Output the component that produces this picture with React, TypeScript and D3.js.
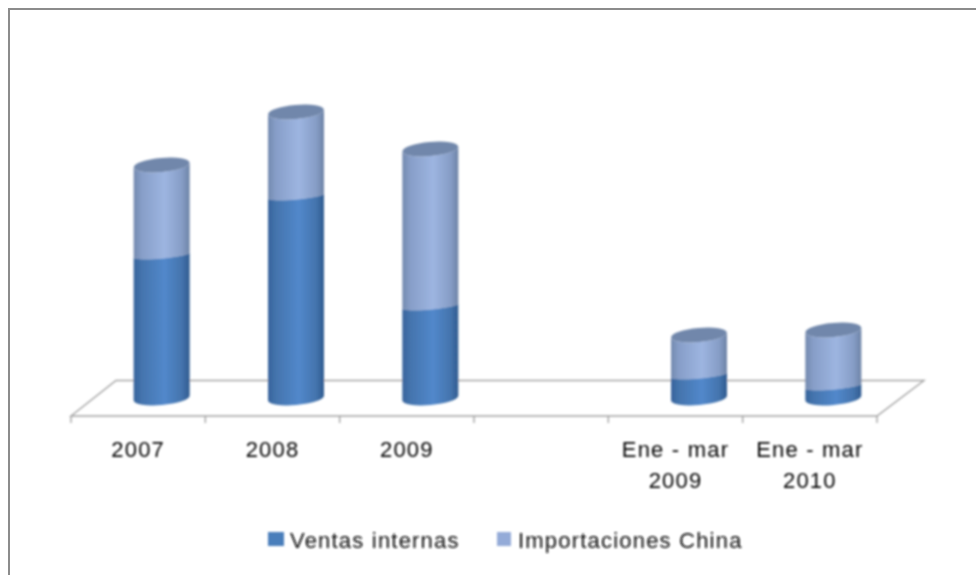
import React from "react";
import * as d3 from "d3";

const categories = ["2007", "2008", "2009", "", "Ene - mar|2009", "Ene - mar|2010"];
const ventasInternas = [143, 202, 92, 0, 23, 12];
const importacionesChina = [90, 84, 157, 0, 40, 56];
const seriesNames = ["Ventas internas", "Importaciones China"];
const FONT = "'Liberation Sans', Arial, sans-serif";

const x = d3.scaleBand<number>().domain(d3.range(categories.length)).range([71, 877]).paddingInner(0).paddingOuter(0);
const y = d3.scaleLinear().domain([0, 300]).range([398, 98]);
const RX = 28;
const RY = 7;
const SPLIT_RY = 3.5;
const SHIFT = 23.5; // depth offset of the bars on the floor
const TILT = -5;

// Front of a cylinder between an upper and a lower curved edge
function cyl(cx: number, yTop: number, yBot: number, ryTop: number, ryBot: number) {
  const l = cx - RX;
  const r = cx + RX;
  return `M${l},${yTop + 2.4} A${RX},${ryTop} ${TILT} 0 0 ${r},${yTop - 2.4} L${r},${yBot - 2.4} A${RX},${ryBot} ${TILT} 0 1 ${l},${yBot + 2.4} Z`;
}

function App() {
  return (
    <svg width={976} height={575} style={{ position: "absolute", left: 0, top: 0 }}>
      <defs>
        <linearGradient id="gDark" x1="0" x2="1" y1="0" y2="0">
          <stop offset="0" stopColor="#36639b" />
          <stop offset="0.14" stopColor="#4474ad" />
          <stop offset="0.55" stopColor="#5288cb" />
          <stop offset="0.86" stopColor="#4474ad" />
          <stop offset="1" stopColor="#2f5a8f" />
        </linearGradient>
        <linearGradient id="gLight" x1="0" x2="1" y1="0" y2="0">
          <stop offset="0" stopColor="#7389ae" />
          <stop offset="0.14" stopColor="#879ec8" />
          <stop offset="0.55" stopColor="#9db5e1" />
          <stop offset="0.86" stopColor="#869dc6" />
          <stop offset="1" stopColor="#6d83a6" />
        </linearGradient>
        <filter id="soft" x="-5%" y="-5%" width="110%" height="110%">
          <feGaussianBlur stdDeviation="0.8" />
        </filter>
      </defs>
      <rect x={0} y={0} width={976} height={575} fill="#fff" />
      <g filter="url(#soft)">
        <g fill="none" stroke="#a3a3a3" strokeWidth={1.4}>
          <path d="M71,416 L116,380.5 L924,380.5 L877,416 Z" />
          {d3.range(categories.length + 1).map((i) => {
            const tx = 71 + x.step() * i;
            return <line key={i} x1={tx} x2={tx} y1={416} y2={423} />;
          })}
        </g>
        {categories.map((c, i) => {
          if (!c) return null;
          const cx = (x(i) as number) + x.bandwidth() / 2 + SHIFT;
          const base = y(0);
          const mid = y(ventasInternas[i]);
          const top = y(ventasInternas[i] + importacionesChina[i]);
          return (
            <g key={c}>
              <path d={cyl(cx, top, mid, RY, SPLIT_RY)} fill="url(#gLight)" />
              <path d={cyl(cx, mid, base, SPLIT_RY, RY)} fill="url(#gDark)" />
              <ellipse cx={cx} cy={top} rx={RX} ry={RY} transform={`rotate(${TILT} ${cx} ${top})`} fill="#7187ab" />
            </g>
          );
        })}
        <g fontFamily={FONT} fontSize={22} fill="#000" textAnchor="middle" letterSpacing={1.2}>
          {categories.map((c, i) => {
            const cx = (x(i) as number) + x.bandwidth() / 2;
            return c.split("|").map((t, k) => (
              <text key={k} x={cx} y={457 + k * 31}>{t}</text>
            ));
          })}
        </g>
        <g fontFamily={FONT} fontSize={22} fill="#111">
          <rect x={268} y={532} width={16} height={14} fill="#4a7ebb" />
          <text x={290} y={548} letterSpacing={1.2}>{seriesNames[0]}</text>
          <rect x={497} y={532} width={14} height={14} fill="#94abd8" />
          <text x={518} y={548} letterSpacing={1.2}>{seriesNames[1]}</text>
        </g>
      </g>
      <path d="M9,575 L9,9 L976,9" fill="none" stroke="#8c8c8c" strokeWidth={2} />
    </svg>
  );
}

export default App;
